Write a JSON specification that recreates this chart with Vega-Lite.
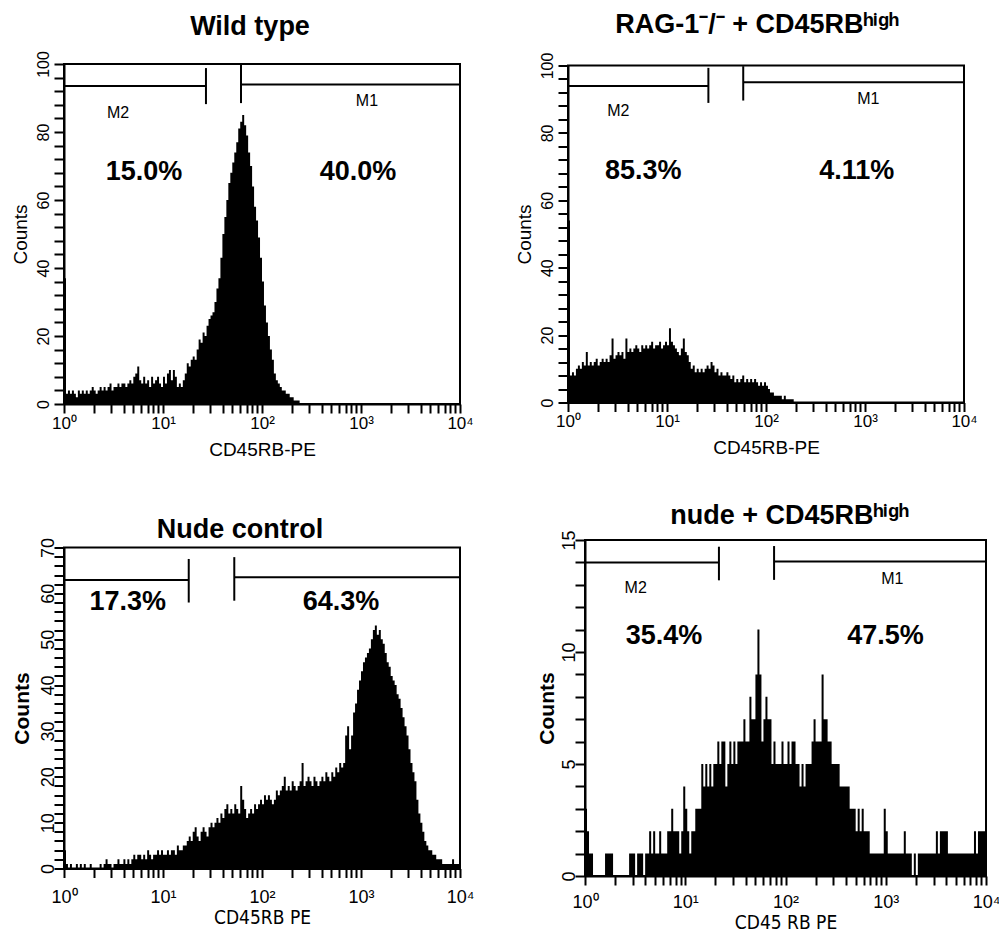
{
"$schema":"https://vega.github.io/schema/vega-lite/v6.json",
"padding":{"left":9,"top":10,"right":0,"bottom":0},
"config":{"view":{"stroke":"black","strokeWidth":2},"font":"Liberation Sans",
"axis":{"grid":false,"ticks":true,"tickCount":200,"format":"d","domainColor":"black","domainWidth":2,"tickColor":"black","tickWidth":2,"labelColor":"black","titleColor":"black","labelFont":"Liberation Sans","titleFont":"Liberation Sans","titleFontWeight":"normal","labelOverlap":false,"labelFlush":false,"labelBound":false},
"title":{"font":"Liberation Sans","fontSize":27,"fontWeight":"bold","color":"black","frame":"group","anchor":"middle","baseline":"alphabetic"},
"text":{"font":"Liberation Sans","color":"black"}},
"datasets":{"h":[
{"c":0,"a":37,"b":54,"n":4,"m":3},{"c":1,"a":3,"b":8,"n":1,"m":2},{"c":2,"a":4,"b":9,"n":0,"m":1},{"c":3,"a":3,"b":8,"n":1,"m":1},{"c":4,"a":4,"b":10,"n":0,"m":0},{"c":5,"a":3,"b":11,"n":0,"m":0},{"c":6,"a":2,"b":10,"n":1,"m":0},{"c":7,"a":4,"b":12,"n":0,"m":0},{"c":8,"a":3,"b":11,"n":1,"m":0},{"c":9,"a":4,"b":15,"n":0,"m":0},
{"c":10,"a":3,"b":11,"n":1,"m":1},{"c":11,"a":4,"b":12,"n":0,"m":1},{"c":12,"a":3,"b":11,"n":0,"m":1},{"c":13,"a":4,"b":12,"n":1,"m":1},{"c":14,"a":5,"b":13,"n":0,"m":0},{"c":15,"a":4,"b":11,"n":0,"m":0},{"c":16,"a":3,"b":12,"n":0,"m":0},{"c":17,"a":4,"b":13,"n":0,"m":0},{"c":18,"a":5,"b":12,"n":1,"m":0},{"c":19,"a":4,"b":13,"n":0,"m":0},
{"c":20,"a":5,"b":12,"n":1,"m":0},{"c":21,"a":4,"b":14,"n":2,"m":0},{"c":22,"a":5,"b":19,"n":1,"m":1},{"c":23,"a":6,"b":13,"n":1,"m":1},{"c":24,"a":4,"b":14,"n":0,"m":1},{"c":25,"a":5,"b":15,"n":1,"m":0},{"c":26,"a":5,"b":14,"n":1,"m":1},{"c":27,"a":6,"b":15,"n":2,"m":1},{"c":28,"a":5,"b":13,"n":1,"m":1},{"c":29,"a":6,"b":19,"n":1,"m":0},
{"c":30,"a":6,"b":15,"n":2,"m":1},{"c":31,"a":5,"b":16,"n":1,"m":1},{"c":32,"a":6,"b":15,"n":2,"m":2},{"c":33,"a":7,"b":16,"n":1,"m":1},{"c":34,"a":6,"b":17,"n":2,"m":2},{"c":35,"a":8,"b":16,"n":3,"m":1},{"c":36,"a":9,"b":15,"n":2,"m":1},{"c":37,"a":11,"b":17,"n":3,"m":2},{"c":38,"a":7,"b":16,"n":3,"m":1},{"c":39,"a":6,"b":17,"n":2,"m":1},
{"c":40,"a":8,"b":16,"n":3,"m":1},{"c":41,"a":6,"b":17,"n":2,"m":2},{"c":42,"a":7,"b":18,"n":4,"m":2},{"c":43,"a":5,"b":16,"n":3,"m":3},{"c":44,"a":8,"b":17,"n":2,"m":2},{"c":45,"a":6,"b":17,"n":3,"m":2},{"c":46,"a":7,"b":18,"n":3,"m":2},{"c":47,"a":8,"b":16,"n":4,"m":1},{"c":48,"a":6,"b":17,"n":3,"m":2},{"c":49,"a":5,"b":18,"n":4,"m":4},
{"c":50,"a":8,"b":17,"n":3,"m":3},{"c":51,"a":6,"b":22,"n":3,"m":2},{"c":52,"a":9,"b":18,"n":4,"m":1},{"c":53,"a":10,"b":17,"n":3,"m":2},{"c":54,"a":7,"b":16,"n":4,"m":2},{"c":55,"a":10,"b":15,"n":4,"m":3},{"c":56,"a":8,"b":14,"n":3,"m":3},{"c":57,"a":5,"b":16,"n":5,"m":3},{"c":58,"a":6,"b":19,"n":4,"m":5},{"c":59,"a":5,"b":15,"n":4,"m":4},
{"c":60,"a":7,"b":14,"n":5,"m":5},{"c":61,"a":9,"b":12,"n":5,"m":4},{"c":62,"a":12,"b":10,"n":6,"m":5},{"c":63,"a":11,"b":11,"n":7,"m":4},{"c":64,"a":13,"b":9,"n":6,"m":5},{"c":65,"a":14,"b":10,"n":8,"m":5},{"c":66,"a":13,"b":9,"n":9,"m":6},{"c":67,"a":16,"b":10,"n":7,"m":5},{"c":68,"a":19,"b":9,"n":6,"m":6},{"c":69,"a":18,"b":10,"n":8,"m":6},
{"c":70,"a":21,"b":11,"n":9,"m":4},{"c":71,"a":20,"b":10,"n":8,"m":5},{"c":72,"a":23,"b":12,"n":7,"m":6},{"c":73,"a":25,"b":11,"n":9,"m":5},{"c":74,"a":26,"b":9,"n":10,"m":6},{"c":75,"a":27,"b":10,"n":9,"m":5},{"c":76,"a":30,"b":8,"n":10,"m":6},{"c":77,"a":34,"b":9,"n":11,"m":6},{"c":78,"a":37,"b":8,"n":10,"m":6},{"c":79,"a":43,"b":8,"n":12,"m":7},
{"c":80,"a":50,"b":9,"n":11,"m":6},{"c":81,"a":55,"b":8,"n":13,"m":6},{"c":82,"a":60,"b":7,"n":14,"m":8},{"c":83,"a":65,"b":8,"n":12,"m":7},{"c":84,"a":68,"b":6,"n":13,"m":7},{"c":85,"a":71,"b":7,"n":12,"m":9},{"c":86,"a":74,"b":6,"n":14,"m":11},{"c":87,"a":77,"b":7,"n":13,"m":9},{"c":88,"a":81,"b":8,"n":12,"m":6},{"c":89,"a":83,"b":6,"n":18,"m":7},
{"c":90,"a":85,"b":7,"n":15,"m":8},{"c":91,"a":82,"b":6,"n":13,"m":7},{"c":92,"a":79,"b":7,"n":11,"m":7},{"c":93,"a":74,"b":6,"n":12,"m":5},{"c":94,"a":70,"b":7,"n":13,"m":6},{"c":95,"a":64,"b":6,"n":12,"m":5},{"c":96,"a":58,"b":5,"n":14,"m":5},{"c":97,"a":54,"b":6,"n":13,"m":5},{"c":98,"a":49,"b":5,"n":14,"m":6},{"c":99,"a":43,"b":6,"n":15,"m":5},
{"c":100,"a":36,"b":5,"n":14,"m":5},{"c":101,"a":29,"b":4,"n":16,"m":6},{"c":102,"a":24,"b":3,"n":15,"m":5},{"c":103,"a":20,"b":3,"n":16,"m":6},{"c":104,"a":16,"b":2,"n":15,"m":6},{"c":105,"a":13,"b":2,"n":14,"m":5},{"c":106,"a":9,"b":2,"n":15,"m":5},{"c":107,"a":7,"b":2,"n":17,"m":4},{"c":108,"a":6,"b":1,"n":16,"m":5},{"c":109,"a":5,"b":2,"n":17,"m":4},
{"c":110,"a":4,"b":1,"n":18,"m":5},{"c":111,"a":4,"b":1,"n":20,"m":5},{"c":112,"a":3,"b":1,"n":17,"m":5},{"c":113,"a":3,"b":1,"n":18,"m":6},{"c":114,"a":2,"b":0,"n":17,"m":7},{"c":115,"a":2,"b":0,"n":19,"m":6},{"c":116,"a":1,"b":0,"n":18,"m":6},{"c":117,"a":1,"b":0,"n":17,"m":6},{"c":118,"a":1,"b":0,"n":18,"m":9},{"c":119,"a":0,"b":0,"n":19,"m":7},
{"c":120,"a":0,"b":0,"n":23,"m":7},{"c":121,"n":18,"m":6},{"c":122,"n":19,"m":6},{"c":123,"n":20,"m":5},{"c":124,"n":19,"m":5},{"c":125,"n":18,"m":5},{"c":126,"n":20,"m":5},{"c":127,"n":19,"m":4},{"c":128,"n":18,"m":4},{"c":129,"n":19,"m":4},
{"c":130,"n":20,"m":4},{"c":131,"n":19,"m":4},{"c":132,"n":21,"m":3},{"c":133,"n":20,"m":3},{"c":134,"n":19,"m":3},{"c":135,"n":21,"m":2},{"c":136,"n":20,"m":3},{"c":137,"n":22,"m":2},{"c":138,"n":21,"m":3},{"c":139,"n":23,"m":2},
{"c":140,"n":22,"m":2},{"c":141,"n":23,"m":2},{"c":142,"n":29,"m":1},{"c":143,"n":31,"m":1},{"c":144,"n":26,"m":1},{"c":145,"n":29,"m":1},{"c":146,"n":34,"m":1},{"c":147,"n":36,"m":1},{"c":148,"n":39,"m":1},{"c":149,"n":41,"m":3},
{"c":150,"n":43,"m":2},{"c":151,"n":45,"m":1},{"c":152,"n":46,"m":1},{"c":153,"n":47,"m":1},{"c":154,"n":48,"m":1},{"c":155,"n":50,"m":1},{"c":156,"n":52,"m":1},{"c":157,"n":53,"m":1},{"c":158,"n":51,"m":1},{"c":159,"n":52,"m":2},
{"c":160,"n":50,"m":1},{"c":161,"n":49,"m":1},{"c":162,"n":47,"m":1},{"c":163,"n":45,"m":0},{"c":164,"n":44,"m":1},{"c":165,"n":42,"m":0},{"c":166,"n":41,"m":1},{"c":167,"n":40,"m":1},{"c":168,"n":38,"m":1},{"c":169,"n":37,"m":1},
{"c":170,"n":35,"m":1},{"c":171,"n":33,"m":1},{"c":172,"n":31,"m":1},{"c":173,"n":29,"m":1},{"c":174,"n":26,"m":1},{"c":175,"n":23,"m":2},{"c":176,"n":21,"m":1},{"c":177,"n":19,"m":2},{"c":178,"n":15,"m":2},{"c":179,"n":12,"m":2},
{"c":180,"n":10,"m":2},{"c":181,"n":8,"m":1},{"c":182,"n":6,"m":1},{"c":183,"n":5,"m":1},{"c":184,"n":4,"m":1},{"c":185,"n":4,"m":1},{"c":186,"n":3,"m":1},{"c":187,"n":3,"m":1},{"c":188,"n":2,"m":1},{"c":189,"n":2,"m":1},
{"c":190,"n":2,"m":1},{"c":191,"n":1,"m":1},{"c":192,"n":1,"m":1},{"c":193,"n":1,"m":1},{"c":194,"n":1,"m":2},{"c":195,"n":1,"m":1},{"c":196,"n":2,"m":2},{"c":197,"n":1,"m":2},{"c":198,"n":1,"m":2},{"c":199,"n":1,"m":2},{"c":200,"n":1,"m":2}
]},
"vconcat":[
{"hconcat":[
{"width":396,"height":340,
"title":{"text":"Wild type","dx":-12,"offset":10},
"layer":[
{"data":{"name":"h"},"mark":{"type":"area","interpolate":"step-after","color":"black"},
"encoding":{
"x":{"field":"c","type":"quantitative","scale":{"domain":[0,200],"nice":false,"zero":false},
"axis":{"title":"CD45RB-PE","values":[0,15.05,23.86,30.1,34.95,38.91,42.25,45.15,47.71,50,65.05,73.86,80.1,84.95,88.91,92.25,95.15,97.71,100,115.05,123.86,130.1,134.95,138.91,142.25,145.15,147.71,150,165.05,173.86,180.1,184.95,188.91,192.25,195.15,197.71,200],
"labelExpr":"datum.value == 0 ? '10⁰' : datum.value == 50 ? '10¹' : datum.value == 100 ? '10²' : datum.value == 150 ? '10³' : datum.value == 200 ? '10⁴' : ''",
"ticks":true,"tickCount":200,"tickSize":9,"encode":{"ticks":{"update":{"y2":{"signal":"datum.value % 50 == 0 ? 9 : 5"}}}},
"labelOverlap":false,"labelFontSize":17,"titleFontSize":19,"labelPadding":2,"titlePadding":9}},
"y":{"field":"a","type":"quantitative","scale":{"domain":[0,100],"nice":false},
"axis":{"title":"Counts","format":"d","values":[0,4,8,12,16,20,24,28,32,36,40,44,48,52,56,60,64,68,72,76,80,84,88,92,96,100],
"labelExpr":"datum.value % 20 == 0 ? datum.label : ''",
"ticks":true,"tickCount":200,"tickSize":10,"encode":{"ticks":{"update":{"x2":{"signal":"datum.value % 20 == 0 ? -10 : -5"}}}},
"labelOverlap":false,"labelAngle":270,"labelAlign":"center","labelBaseline":"bottom","labelFontSize":16,"titleFontSize":19,"labelPadding":3,"titlePadding":5}}}},
{"data":{"values":[{"x1":0,"x2":71.7,"y1":93.5,"y2":93.5},{"x1":71.7,"x2":71.7,"y1":88.2,"y2":98.8},{"x1":89.4,"x2":200,"y1":94,"y2":94},{"x1":89.4,"x2":89.4,"y1":88.5,"y2":99.7}]},
"mark":{"type":"rule","color":"black","strokeWidth":2},
"encoding":{"x":{"field":"x1","type":"quantitative"},"x2":{"field":"x2"},"y":{"field":"y1","type":"quantitative"},"y2":{"field":"y2"}}},
{"data":{"values":[{"x":27.3,"y":85.6,"t":"M2"},{"x":153,"y":89,"t":"M1"}]},
"mark":{"type":"text","fontSize":16},
"encoding":{"x":{"field":"x","type":"quantitative"},"y":{"field":"y","type":"quantitative"},"text":{"field":"t"}}},
{"data":{"values":[{"x":40.4,"y":68.2,"t":"15.0%"},{"x":148.5,"y":68.2,"t":"40.0%"}]},
"mark":{"type":"text","fontSize":27,"fontWeight":"bold"},
"encoding":{"x":{"field":"x","type":"quantitative"},"y":{"field":"y","type":"quantitative"},"text":{"field":"t"}}}
]},
{"width":396,"height":337,
"title":{"text":"RAG-1⁻/⁻ + CD45RBʰⁱᵍʰ","dx":-9,"offset":13},
"layer":[
{"data":{"name":"h"},"mark":{"type":"area","interpolate":"step-after","color":"black"},
"encoding":{
"x":{"field":"c","type":"quantitative","scale":{"domain":[0,200],"nice":false,"zero":false},
"axis":{"title":"CD45RB-PE","values":[0,15.05,23.86,30.1,34.95,38.91,42.25,45.15,47.71,50,65.05,73.86,80.1,84.95,88.91,92.25,95.15,97.71,100,115.05,123.86,130.1,134.95,138.91,142.25,145.15,147.71,150,165.05,173.86,180.1,184.95,188.91,192.25,195.15,197.71,200],
"labelExpr":"datum.value == 0 ? '10⁰' : datum.value == 50 ? '10¹' : datum.value == 100 ? '10²' : datum.value == 150 ? '10³' : datum.value == 200 ? '10⁴' : ''",
"ticks":true,"tickCount":200,"tickSize":9,"encode":{"ticks":{"update":{"y2":{"signal":"datum.value % 50 == 0 ? 9 : 5"}}}},
"labelOverlap":false,"labelFontSize":17,"titleFontSize":19,"labelPadding":2,"titlePadding":9}},
"y":{"field":"b","type":"quantitative","scale":{"domain":[0,100],"nice":false},
"axis":{"title":"Counts","format":"d","values":[0,4,8,12,16,20,24,28,32,36,40,44,48,52,56,60,64,68,72,76,80,84,88,92,96,100],
"labelExpr":"datum.value % 20 == 0 ? datum.label : ''",
"ticks":true,"tickCount":200,"tickSize":10,"encode":{"ticks":{"update":{"x2":{"signal":"datum.value % 20 == 0 ? -10 : -5"}}}},
"labelOverlap":false,"labelAngle":270,"labelAlign":"center","labelBaseline":"bottom","labelFontSize":16,"titleFontSize":19,"labelPadding":3,"titlePadding":5}}}},
{"data":{"values":[{"x1":0,"x2":70.9,"y1":93.9,"y2":93.9},{"x1":70.9,"x2":70.9,"y1":88.9,"y2":99.3},{"x1":88.5,"x2":200,"y1":95,"y2":95},{"x1":88.5,"x2":88.5,"y1":89.6,"y2":99.8}]},
"mark":{"type":"rule","color":"black","strokeWidth":2},
"encoding":{"x":{"field":"x1","type":"quantitative"},"x2":{"field":"x2"},"y":{"field":"y1","type":"quantitative"},"y2":{"field":"y2"}}},
{"data":{"values":[{"x":25.4,"y":86.4,"t":"M2"},{"x":151.7,"y":90.1,"t":"M1"}]},
"mark":{"type":"text","fontSize":16},
"encoding":{"x":{"field":"x","type":"quantitative"},"y":{"field":"y","type":"quantitative"},"text":{"field":"t"}}},
{"data":{"values":[{"x":38,"y":68.6,"t":"85.3%"},{"x":145.8,"y":68.6,"t":"4.11%"}]},
"mark":{"type":"text","fontSize":27,"fontWeight":"bold"},
"encoding":{"x":{"field":"x","type":"quantitative"},"y":{"field":"y","type":"quantitative"},"text":{"field":"t"}}}
]}
],"spacing":108,"bounds":"flush","center":true},
{"hconcat":[
{"width":396,"height":321,
"title":{"text":"Nude control","dx":-22,"offset":-7},
"layer":[
{"data":{"name":"h"},"mark":{"type":"area","interpolate":"step-after","color":"black"},
"encoding":{
"x":{"field":"c","type":"quantitative","scale":{"domain":[0,200],"nice":false,"zero":false},
"axis":{"title":"CD45RB PE","titleFont":"Liberation Sans Narrow, DejaVu Sans Condensed, sans-serif","values":[0,15.05,23.86,30.1,34.95,38.91,42.25,45.15,47.71,50,65.05,73.86,80.1,84.95,88.91,92.25,95.15,97.71,100,115.05,123.86,130.1,134.95,138.91,142.25,145.15,147.71,150,165.05,173.86,180.1,184.95,188.91,192.25,195.15,197.71,200],
"labelExpr":"datum.value == 0 ? '10⁰' : datum.value == 50 ? '10¹' : datum.value == 100 ? '10²' : datum.value == 150 ? '10³' : datum.value == 200 ? '10⁴' : ''",
"ticks":true,"tickCount":200,"tickSize":9,"encode":{"ticks":{"update":{"y2":{"signal":"datum.value % 50 == 0 ? 9 : 5"}}}},
"labelOverlap":false,"labelFontSize":18,"titleFontSize":19,"labelPadding":11,"titlePadding":2}},
"y":{"field":"n","type":"quantitative","scale":{"domain":[0,70],"nice":false},
"axis":{"title":"Counts","format":"d","values":[0,2,4,6,8,10,12,14,16,18,20,22,24,26,28,30,32,34,36,38,40,42,44,46,48,50,52,54,56,58,60,62,64,66,68,70],
"labelExpr":"datum.value % 10 == 0 ? datum.label : ''",
"ticks":true,"tickCount":200,"tickSize":10,"encode":{"ticks":{"update":{"x2":{"signal":"datum.value % 10 == 0 ? -10 : -5"}}}},
"labelOverlap":false,"labelAngle":270,"labelAlign":"center","labelBaseline":"bottom","labelFontSize":18,"titleFontSize":21,"titleFontWeight":"bold","labelPadding":-3,"titlePadding":7}}}},
{"data":{"values":[{"x1":0,"x2":63,"y1":62.9,"y2":62.9},{"x1":63,"x2":63,"y1":58,"y2":67.5},{"x1":86,"x2":200,"y1":63.5,"y2":63.5},{"x1":86,"x2":86,"y1":58.4,"y2":67.9}]},
"mark":{"type":"rule","color":"black","strokeWidth":2},
"encoding":{"x":{"field":"x1","type":"quantitative"},"x2":{"field":"x2"},"y":{"field":"y1","type":"quantitative"},"y2":{"field":"y2"}}},
{"data":{"values":[{"x":32.2,"y":58.2,"t":"17.3%"},{"x":139.9,"y":58.2,"t":"64.3%"}]},
"mark":{"type":"text","fontSize":27,"fontWeight":"bold"},
"encoding":{"x":{"field":"x","type":"quantitative"},"y":{"field":"y","type":"quantitative"},"text":{"field":"t"}}}
]},
{"width":401,"height":336,
"title":{"text":"nude + CD45RBʰⁱᵍʰ","dx":4,"offset":0},
"layer":[
{"data":{"name":"h"},"mark":{"type":"area","interpolate":"step-after","color":"black"},
"encoding":{
"x":{"field":"c","type":"quantitative","scale":{"domain":[0,200],"nice":false,"zero":false},
"axis":{"title":"CD45 RB PE","titleFont":"Liberation Sans Narrow, DejaVu Sans Condensed, sans-serif","values":[0,15.05,23.86,30.1,34.95,38.91,42.25,45.15,47.71,50,65.05,73.86,80.1,84.95,88.91,92.25,95.15,97.71,100,115.05,123.86,130.1,134.95,138.91,142.25,145.15,147.71,150,165.05,173.86,180.1,184.95,188.91,192.25,195.15,197.71,200],
"labelExpr":"datum.value == 0 ? '10⁰' : datum.value == 50 ? '10¹' : datum.value == 100 ? '10²' : datum.value == 150 ? '10³' : datum.value == 200 ? '10⁴' : ''",
"ticks":true,"tickCount":200,"tickSize":9,"encode":{"ticks":{"update":{"y2":{"signal":"datum.value % 50 == 0 ? 9 : 5"}}}},
"labelOverlap":false,"labelFontSize":18,"titleFontSize":19,"labelPadding":8,"titlePadding":2}},
"y":{"field":"m","type":"quantitative","scale":{"domain":[0,15],"nice":false},
"axis":{"title":"Counts","format":"d","values":[0,1,2,3,4,5,6,7,8,9,10,11,12,13,14,15],
"labelExpr":"datum.value % 5 == 0 ? datum.label : ''",
"ticks":true,"tickCount":200,"tickSize":10,"encode":{"ticks":{"update":{"x2":{"signal":"datum.value % 5 == 0 ? -10 : -5"}}}},
"labelOverlap":false,"labelAngle":270,"labelAlign":"center","labelBaseline":"bottom","labelFontSize":18,"titleFontSize":21,"titleFontWeight":"bold","labelPadding":-3,"titlePadding":3}}}},
{"data":{"values":[{"x1":0,"x2":66.8,"y1":14,"y2":14},{"x1":66.8,"x2":66.8,"y1":13.2,"y2":14.7},{"x1":94.3,"x2":200,"y1":14.04,"y2":14.04},{"x1":94.3,"x2":94.3,"y1":13.22,"y2":14.73}]},
"mark":{"type":"rule","color":"black","strokeWidth":2},
"encoding":{"x":{"field":"x1","type":"quantitative"},"x2":{"field":"x2"},"y":{"field":"y1","type":"quantitative"},"y2":{"field":"y2"}}},
{"data":{"values":[{"x":25.3,"y":12.85,"t":"M2"},{"x":153.3,"y":13.25,"t":"M1"}]},
"mark":{"type":"text","fontSize":16},
"encoding":{"x":{"field":"x","type":"quantitative"},"y":{"field":"y","type":"quantitative"},"text":{"field":"t"}}},
{"data":{"values":[{"x":39.4,"y":10.72,"t":"35.4%"},{"x":149.9,"y":10.72,"t":"47.5%"}]},
"mark":{"type":"text","fontSize":27,"fontWeight":"bold"},
"encoding":{"x":{"field":"x","type":"quantitative"},"y":{"field":"y","type":"quantitative"},"text":{"field":"t"}}}
]}
],"spacing":125,"bounds":"flush","center":true}
],"spacing":40}
